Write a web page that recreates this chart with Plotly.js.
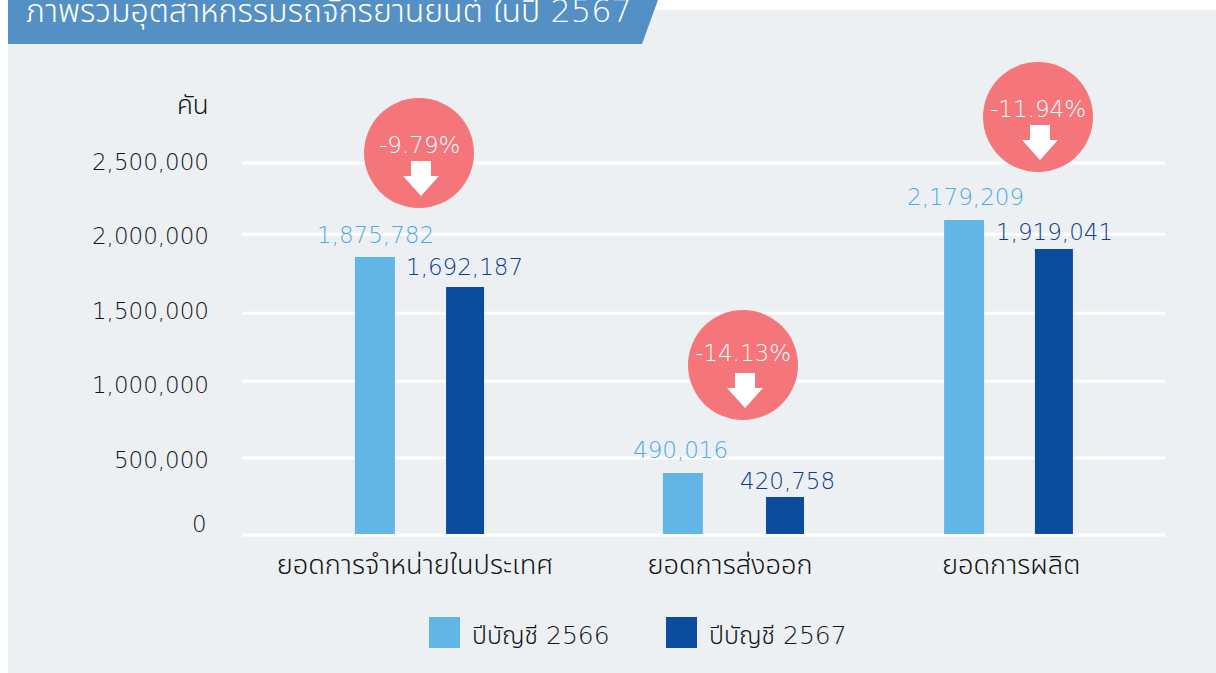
<!DOCTYPE html>
<html><head><meta charset="utf-8">
<script src="https://cdn.plot.ly/plotly-3.0.1.min.js"></script>
<style>html,body{margin:0;padding:0;background:#fff}#c{width:1216px;height:673px}</style>
</head><body><div id="c"></div>
<script>
const categories = ['ยอดการจำหน่ายในประเทศ','ยอดการส่งออก','ยอดการผลิต'];
const seriesNames = ['ปีบัญชี 2566','ปีบัญชี 2567'];
const heights2566 = [1862000, 410000, 2110000];
const heights2567 = [1660000, 249000, 1915000];
const labels2566 = ['1,875,782','490,016','2,179,209'];
const labels2567 = ['1,692,187','420,758','1,919,041'];
const changes = ['-9.79%','-14.13%','-11.94%'];
const yTicks = [500000,1000000,1500000,2000000,2500000];
const yTickText = ['500,000','1,000,000','1,500,000','2,000,000','2,500,000'];
const gridValues = [-7000,510000,1027000,1484000,2015000,2493000];
const catPos = [0.062,1.086,2.0];
const pos2566 = [-0.068,0.933,1.847];
const pos2567 = [0.225,1.265,2.139];
const labelShift = {a:[[1,22],[-2,23],[1,23]], b:[[-1,20],[2,16],[1,17]]};
const badgeCentres = [[419,153],[743,365],[1038,117]];
const badgeTextLift = [8,12,8];

const FONT = '"DejaVu Sans","Noto Sans Thai",sans-serif';
const W=300;
const BLUE_L='#62b6e6', BLUE_D='#0b4c9e', TXT='#141414', BADGE='#f4757a', PANEL='#edf0f3';
const TXT_L='#4dabe3', TXT_D='#083f8f';
const L=242,R=1165,T=158,B=538;
const Y_PAD=26882;
const px=x=>x/1216, py=y=>1-y/673;

const traces=[
 {type:'bar',name:seriesNames[0],x:pos2566,y:heights2566,width:0.13,marker:{color:BLUE_L},hoverinfo:'skip',showlegend:false},
 {type:'bar',name:seriesNames[1],x:pos2567,y:heights2567,width:0.1235,marker:{color:BLUE_D},hoverinfo:'skip',showlegend:false}
];

const shapes=[];
const P=(s,o)=>Object.assign({xref:'paper',yref:'paper',line:{width:0},layer:'below'},s,o||{});
const rect=(x0,y0,x1,y1,c,o)=>P({type:'rect',x0:px(x0),x1:px(x1),y0:py(y0),y1:py(y1),fillcolor:c},o);
const poly=(pts,c,o)=>P({type:'path',path:'M'+pts.map(p=>px(p[0])+','+py(p[1])).join(' L')+' Z',fillcolor:c},o);
shapes.push(rect(8,10,1216,673,PANEL));
shapes.push(poly([[8,0],[658,0],[642,44],[8,44]],'#5490c4'));
gridValues.forEach(v=>shapes.push({type:'line',xref:'x',yref:'y',x0:-0.5,x1:2.5,y0:v,y1:v,line:{color:'#ffffff',width:3},layer:'below'}));
badgeCentres.forEach(([cx,cy])=>{
 shapes.push(rect(cx-55,cy-55,cx+55,cy+55,BADGE,{type:'circle',layer:'above'}));
 const ax=cx+2, t=cy+8;
 shapes.push(poly([[ax-10,t],[ax+10,t],[ax+10,t+15],[ax+18,t+15],[ax,t+35],[ax-18,t+15],[ax-10,t+15]],'#fff',{layer:'above'}));
});
shapes.push(rect(429,617,460,648,BLUE_L,{layer:'above'}));
shapes.push(rect(666,617,697,648,BLUE_D,{layer:'above'}));

const annotations=[];
const A=(text,x,y,size,color,anchor)=>({xref:'paper',yref:'paper',x:px(x),y:py(y),text,showarrow:false,xanchor:anchor||'center',yanchor:'middle',font:{family:FONT,size,color,weight:W}});
annotations.push(A('ภาพรวมอุตสาหกรรมรถจักรยานยนต์ ในปี 2567',24,11,32,'#fff','left'));
annotations.push(A('คัน',211,105,26,TXT,'right'));
annotations.push(A('0',209,524,23,TXT,'right'));
annotations.push(A(seriesNames[0],470,635,25,TXT,'left'));
annotations.push(A(seriesNames[1],707,635,25,TXT,'left'));
changes.forEach((c,i)=>annotations.push(A(c,badgeCentres[i][0],badgeCentres[i][1]-badgeTextLift[i],23,'#fff')));
labels2566.forEach((t,i)=>annotations.push({x:pos2566[i],y:heights2566[i],text:t,showarrow:false,xshift:labelShift.a[i][0],yshift:labelShift.a[i][1],yanchor:'middle',font:{family:FONT,size:23,color:TXT_L,weight:W}}));
labels2567.forEach((t,i)=>annotations.push({x:pos2567[i],y:heights2567[i],text:t,showarrow:false,xshift:labelShift.b[i][0],yshift:labelShift.b[i][1],yanchor:'middle',font:{family:FONT,size:23,color:TXT_D,weight:W}}));

const layout={
 width:1216,height:673,margin:{l:0,r:0,t:0,b:0},paper_bgcolor:'#fff',plot_bgcolor:'rgba(0,0,0,0)',
 barmode:'overlay',showlegend:false,
 xaxis:{domain:[L/1216,R/1216],range:[-0.5,2.5],tickmode:'array',tickvals:catPos,ticktext:categories,showgrid:false,zeroline:false,showline:false,ticks:'',ticklabelstandoff:8,tickfont:{family:FONT,size:27.2,color:TXT,weight:W},anchor:'y'},
 yaxis:{domain:[(673-B)/673,(673-T)/673],range:[-Y_PAD,2500000+Y_PAD],tickmode:'array',tickvals:yTicks,ticktext:yTickText,showgrid:false,zeroline:false,showline:false,ticks:'',ticklabelstandoff:32,tickfont:{family:FONT,size:23,color:TXT,weight:W},anchor:'x'},
 shapes,annotations
};
Plotly.newPlot('c',traces,layout,{staticPlot:true,displayModeBar:false});
</script></body></html>
